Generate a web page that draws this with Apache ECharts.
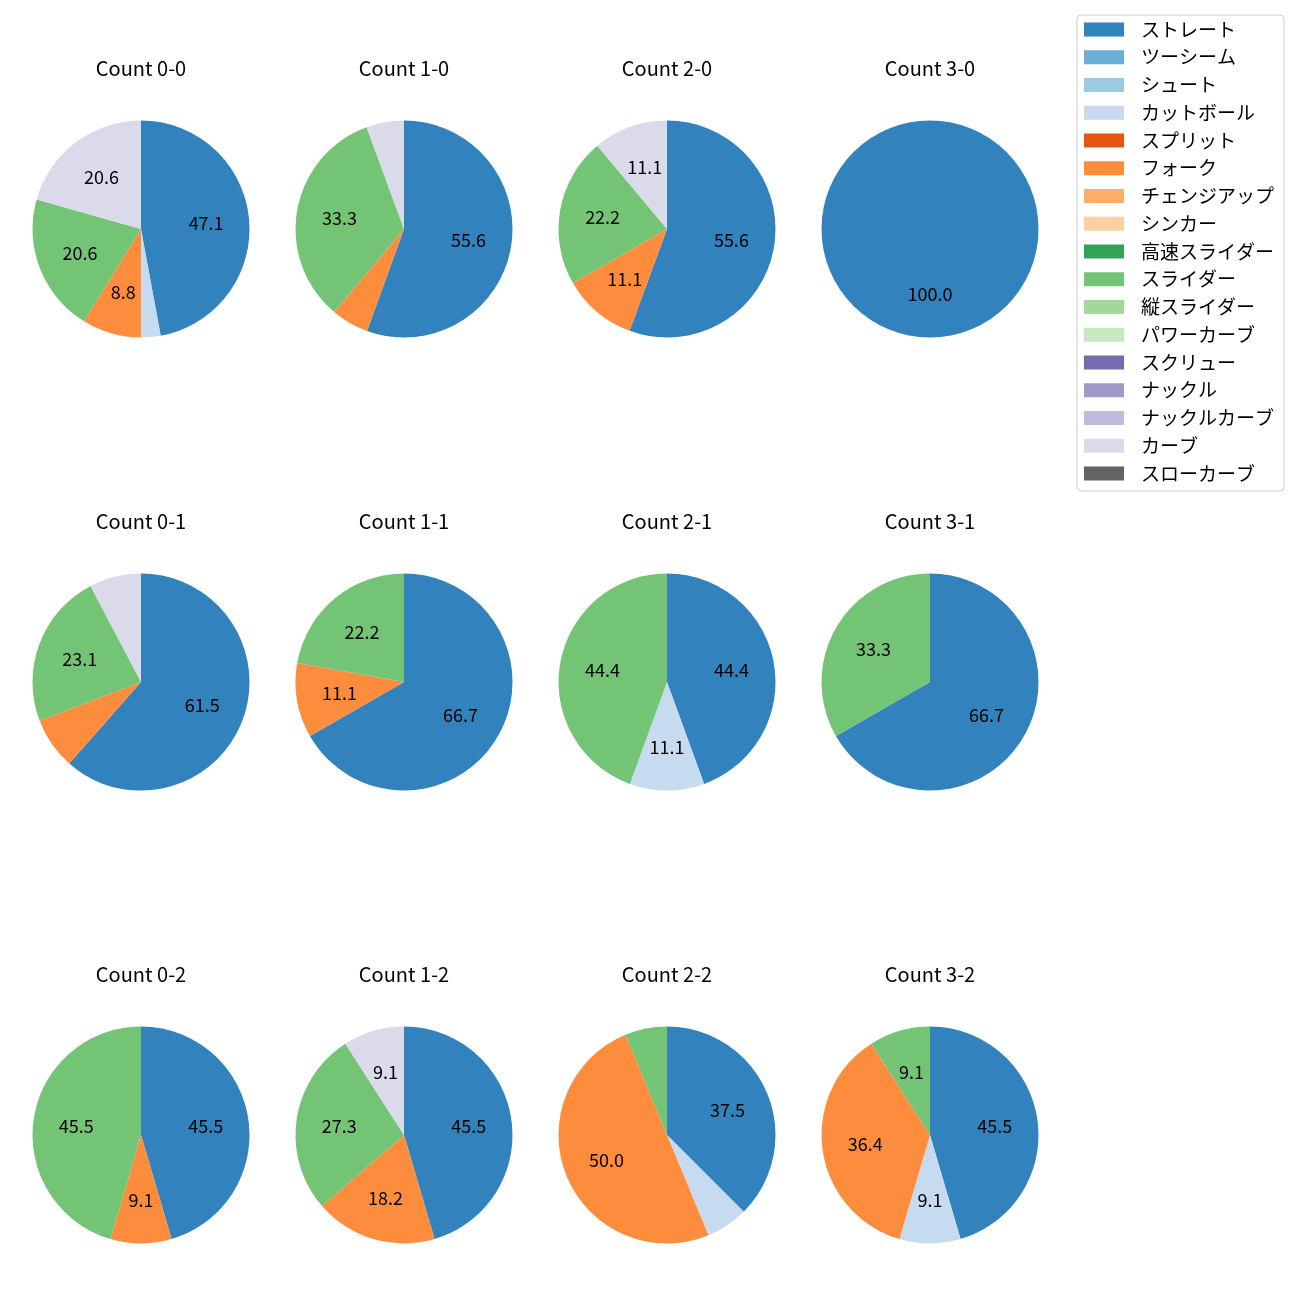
<!DOCTYPE html>
<html>
<head>
<meta charset="utf-8">
<script src="https://cdn.jsdelivr.net/npm/echarts@6/dist/echarts.min.js"></script>
<style>html,body{margin:0;padding:0;background:#fff;}#c{width:1300px;height:1300px;}</style>
</head>
<body>
<div id="c"></div>
<script>
// Pitch types (legend order) and colours
const pitchTypes = ['ストレート','ツーシーム','シュート','カットボール','スプリット','フォーク','チェンジアップ','シンカー','高速スライダー','スライダー','縦スライダー','パワーカーブ','スクリュー','ナックル','ナックルカーブ','カーブ','スローカーブ'];
const pitchColors = ['#3182bd','#6baed6','#9ecae1','#c6dbef','#e6550d','#fd8d3c','#fdae6b','#fdd0a2','#31a354','#74c476','#a1d99b','#c7e9c0','#756bb1','#9e9ac8','#bcbddc','#dadaeb','#636363'];

// Counts (panel order: row by row)
const counts = ['0-0','1-0','2-0','3-0','0-1','1-1','2-1','3-1','0-2','1-2','2-2','3-2'];

// Percentages per pitch type, one value per count above
const straight = [47.1, 55.6, 55.6, 100.0, 61.5, 66.7, 44.4, 66.7, 45.5, 45.5, 37.5, 45.5];
const cutter   = [2.9, 0, 0, 0, 0, 0, 11.1, 0, 0, 0, 6.25, 9.1];
const fork     = [8.8, 5.6, 11.1, 0, 7.7, 11.1, 0, 0, 9.1, 18.2, 50.0, 36.4];
const slider   = [20.6, 33.3, 22.2, 0, 23.1, 22.2, 44.4, 33.3, 45.5, 27.3, 6.25, 9.1];
const curve    = [20.6, 5.6, 11.1, 0, 7.7, 0, 0, 0, 0, 9.1, 0, 0];

const valuesByType = {'ストレート': straight, 'カットボール': cutter, 'フォーク': fork, 'スライダー': slider, 'カーブ': curve};

const FONT = 'Noto Sans CJK JP';
const colX = [141, 404, 667, 930];
const rowY = [229, 682, 1135];
const R = 108.5;

const chart = echarts.init(document.getElementById('c'), null, {renderer: 'canvas'});

function dataFor(i) {
  return pitchTypes.map((name, k) => ({
    name: name,
    value: valuesByType[name] ? valuesByType[name][i] : 0,
    itemStyle: {color: pitchColors[k]}
  }));
}

const pieSeries = [];
const labelSeries = [];
const graphics = [];
counts.forEach((c, i) => {
  const cx = colX[i % 4], cy = rowY[Math.floor(i / 4)];
  pieSeries.push({
    type: 'pie', name: 'Count ' + c,
    center: [cx, cy], radius: [0, R],
    startAngle: 90, clockwise: true,
    minAngle: 0, avoidLabelOverlap: false,
    label: {show: false}, labelLine: {show: false},
    itemStyle: {borderWidth: 0},
    emphasis: {disabled: true},
    animation: false,
    data: dataFor(i)
  });
  labelSeries.push({
    type: 'pie', name: 'lbl ' + c,
    center: [cx, cy], radius: [0, R * 1.15],
    startAngle: 90, clockwise: true,
    avoidLabelOverlap: false, silent: true,
    itemStyle: {color: 'rgba(0,0,0,0)', borderWidth: 0},
    emphasis: {disabled: true},
    labelLine: {show: false},
    label: {
      show: true, position: 'inside', color: '#000',
      fontFamily: FONT, fontSize: 18,
      formatter: p => (p.value >= 8 ? p.value.toFixed(1) : '')
    },
    animation: false,
    data: dataFor(i).map(d => ({name: d.name, value: d.value}))
  });
  graphics.push({
    type: 'text', x: cx, y: cy - 161,
    style: {text: 'Count ' + c, fill: '#000', font: '20px "' + FONT + '"', textAlign: 'center', textVerticalAlign: 'middle'}
  });
});

chart.setOption({
  backgroundColor: '#fff',
  animation: false,
  legend: {
    orient: 'vertical', left: 1077, top: 15,
    data: pitchTypes,
    icon: 'rect', itemWidth: 40, itemHeight: 14, itemGap: 8.75,
    padding: [5, 10, 8, 7],
    borderColor: '#cccccc', borderWidth: 1, borderRadius: 4,
    selectedMode: false,
    textStyle: {fontFamily: FONT, fontSize: 19, lineHeight: 19, color: '#000', padding: [0, 0, 0, 12]}
  },
  graphic: graphics,
  series: pieSeries.concat(labelSeries)
});
</script>
</body>
</html>
